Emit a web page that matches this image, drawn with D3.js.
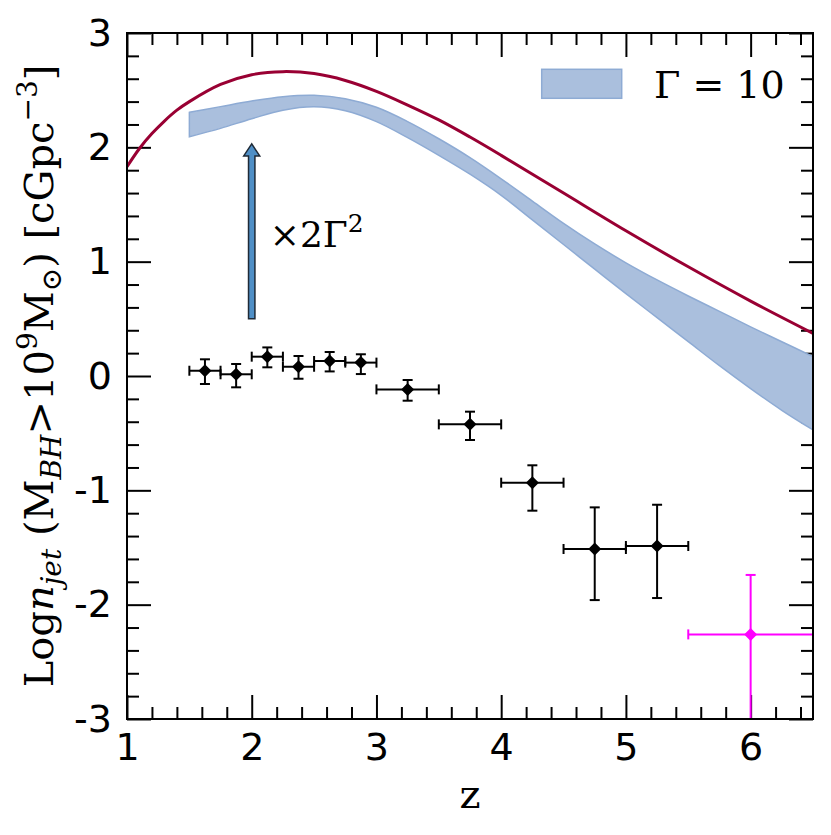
<!DOCTYPE html>
<html>
<head>
<meta charset="utf-8">
<script src="https://cdn.jsdelivr.net/npm/d3@7"></script>
<style>
  body { margin: 0; background: #fff; }
</style>
</head>
<body>
<div id="chart"></div>
<script>

// model curve (red line)
var redZ = [1.0, 1.1, 1.2, 1.3, 1.4, 1.5, 1.75, 2.0, 2.25, 2.5, 2.75, 3.0, 3.25, 3.5, 3.75, 4.0, 4.5, 5.0, 5.5, 6.0, 6.5];
var redV = [1.83, 1.99, 2.12, 2.23, 2.325, 2.40, 2.55, 2.635, 2.662, 2.645, 2.585, 2.49, 2.37, 2.24, 2.09, 1.93, 1.60, 1.27, 0.955, 0.655, 0.373];

// Gamma = 10 band
var bandZ  = [1.5, 1.75, 2.0, 2.25, 2.5, 2.75, 3.0, 3.25, 3.5, 3.75, 4.0, 4.25, 4.5, 4.75, 5.0, 5.25, 5.5, 5.75, 6.0, 6.25, 6.5];
var bandHi = [2.306, 2.356, 2.405, 2.443, 2.455, 2.425, 2.35, 2.225, 2.075, 1.91, 1.725, 1.53, 1.335, 1.155, 0.99, 0.84, 0.70, 0.565, 0.43, 0.30, 0.169];
var bandLo = [2.093, 2.166, 2.25, 2.325, 2.355, 2.32, 2.225, 2.085, 1.93, 1.765, 1.58, 1.365, 1.15, 0.935, 0.72, 0.51, 0.30, 0.09, -0.11, -0.30, -0.472];

// measured points (black)
var ptZ   = [1.625, 1.875, 2.125, 2.375, 2.625, 2.875, 3.25, 3.75, 4.25, 4.75, 5.25];
var ptZlo = [1.5, 1.75, 2.0, 2.25, 2.5, 2.75, 3.0, 3.5, 4.0, 4.5, 5.0];
var ptZhi = [1.75, 2.0, 2.25, 2.5, 2.75, 3.0, 3.5, 4.0, 4.5, 5.0, 5.5];
var ptV   = [0.046, 0.015, 0.169, 0.081, 0.131, 0.117, -0.117, -0.423, -0.933, -1.513, -1.487];
var ptUp  = [0.10, 0.09, 0.081, 0.094, 0.079, 0.073, 0.082, 0.111, 0.152, 0.364, 0.361];
var ptDn  = [0.116, 0.114, 0.093, 0.105, 0.091, 0.10, 0.099, 0.137, 0.245, 0.447, 0.455];

// high-z point (magenta)
var hiZ = [6.0], hiZlo = [5.5], hiZhi = [6.5];
var hiV = [-2.26], hiUp = [0.52], hiDn = [1.2];

// arrow x2Γ^2
var arrowZ = 2.0, arrowFrom = 0.5, arrowTo = 2.03;

var xTicks = [1, 2, 3, 4, 5, 6];
var yTicks = [-3, -2, -1, 0, 1, 2, 3];

var W = 831, H = 835;
var margin = {top: 33, right: 18, bottom: 116, left: 127},
    width = W - margin.left - margin.right,
    height = H - margin.top - margin.bottom;

var svg = d3.select("#chart")
  .append("svg")
    .attr("width", W)
    .attr("height", H)
  .append("g")
    .attr("transform", "translate(" + margin.left + "," + margin.top + ")");

var x = d3.scaleLinear().domain([1, 6.5]).range([0, width]);
var y = d3.scaleLinear().domain([-3, 3]).range([height, 0]);

// axes (drawn first so the data sits on top of the ticks)
var xMinor = d3.range(1.2, 6.5, 0.2).filter(function(v) { return Math.abs(v - Math.round(v)) > 0.01; });
var yMinor = d3.range(-2.8, 3, 0.2).filter(function(v) { return Math.abs(v - Math.round(v)) > 0.01; });

function styleAxis(g) {
  g.select(".domain").remove();
  g.selectAll("line").attr("stroke", "#000").attr("stroke-width", 2);
  g.selectAll("text").style("font-family", "DejaVu Sans").style("font-size", "38px").attr("fill", "#000");
}

svg.append("g").attr("transform", "translate(0," + height + ")")
  .call(d3.axisBottom(x).tickValues(xTicks).tickSize(-24).tickSizeOuter(0).tickPadding(14)
    .tickFormat(function(d) { return String(d); })).call(styleAxis);
svg.append("g").attr("transform", "translate(0," + height + ")")
  .call(d3.axisBottom(x).tickValues(xMinor).tickSize(-12).tickSizeOuter(0).tickFormat("")).call(styleAxis);
svg.append("g")
  .call(d3.axisTop(x).tickValues(xTicks).tickSize(-24).tickSizeOuter(0).tickFormat("")).call(styleAxis);
svg.append("g")
  .call(d3.axisTop(x).tickValues(xMinor).tickSize(-12).tickSizeOuter(0).tickFormat("")).call(styleAxis);

svg.append("g")
  .call(d3.axisLeft(y).tickValues(yTicks).tickSize(-24).tickSizeOuter(0).tickPadding(15)
    .tickFormat(function(d) { return String(d); })).call(styleAxis);
svg.append("g")
  .call(d3.axisLeft(y).tickValues(yMinor).tickSize(-12).tickSizeOuter(0).tickFormat("")).call(styleAxis);
svg.append("g").attr("transform", "translate(" + width + ",0)")
  .call(d3.axisRight(y).tickValues(yTicks).tickSize(-24).tickSizeOuter(0).tickFormat("")).call(styleAxis);
svg.append("g").attr("transform", "translate(" + width + ",0)")
  .call(d3.axisRight(y).tickValues(yMinor).tickSize(-12).tickSizeOuter(0).tickFormat("")).call(styleAxis);

svg.append("clipPath").attr("id", "clip")
  .append("rect").attr("width", width).attr("height", height);

var plot = svg.append("g").attr("clip-path", "url(#clip)");

// band
var band = bandZ.map(function(z, i) { return {z: z, hi: bandHi[i], lo: bandLo[i]}; });
plot.append("path")
  .datum(band)
  .attr("d", d3.area()
    .x(function(d) { return x(d.z); })
    .y0(function(d) { return y(d.lo); })
    .y1(function(d) { return y(d.hi); })
    .curve(d3.curveCatmullRom))
  .attr("fill", "#aabfdd")
  .attr("stroke", "#8eabd4")
  .attr("stroke-width", 1.5);

// red curve
var red = redZ.map(function(z, i) { return {z: z, v: redV[i]}; });
plot.append("path")
  .datum(red)
  .attr("d", d3.line()
    .x(function(d) { return x(d.z); })
    .y(function(d) { return y(d.v); })
    .curve(d3.curveCatmullRom))
  .attr("fill", "none")
  .attr("stroke", "#990033")
  .attr("stroke-width", 3);

// arrow
var ax = x(arrowZ), ay0 = y(arrowFrom), ay1 = y(arrowTo);
var sw = 3.2, hw = 8, hl = 12;
plot.append("path")
  .attr("d", "M" + (ax - sw) + "," + ay0 + "L" + (ax - sw) + "," + (ay1 + hl) +
             "L" + (ax - hw) + "," + (ay1 + hl) + "L" + ax + "," + ay1 +
             "L" + (ax + hw) + "," + (ay1 + hl) + "L" + (ax + sw) + "," + (ay1 + hl) +
             "L" + (ax + sw) + "," + ay0 + "Z")
  .attr("fill", "#4f8fc6")
  .attr("stroke", "#1f2a36")
  .attr("stroke-width", 1.5)
  .attr("stroke-linejoin", "miter");

var lab = svg.append("text")
  .attr("x", ax + 18)
  .attr("y", 214)
  .style("font-family", "DejaVu Serif")
  .style("font-size", "36px");
lab.append("tspan").text("×2Γ");
lab.append("tspan").attr("dy", -15).style("font-size", "25px").text("2");

// error bars
function errbars(zs, zlo, zhi, vs, up, dn, color) {
  var g = plot.append("g").attr("stroke", color).attr("stroke-width", 2).attr("fill", color);
  zs.forEach(function(z, i) {
    var cx = x(z), cy = y(vs[i]);
    var xl = x(zlo[i]), xr = x(zhi[i]), yt = y(vs[i] + up[i]), yb = y(vs[i] - dn[i]);
    g.append("line").attr("x1", xl).attr("x2", xr).attr("y1", cy).attr("y2", cy);
    g.append("line").attr("x1", cx).attr("x2", cx).attr("y1", yt).attr("y2", yb);
    g.append("line").attr("x1", xl).attr("x2", xl).attr("y1", cy - 5).attr("y2", cy + 5);
    g.append("line").attr("x1", xr).attr("x2", xr).attr("y1", cy - 5).attr("y2", cy + 5);
    g.append("line").attr("x1", cx - 5).attr("x2", cx + 5).attr("y1", yt).attr("y2", yt);
    g.append("line").attr("x1", cx - 5).attr("x2", cx + 5).attr("y1", yb).attr("y2", yb);
    var r = 6.5;
    g.append("path")
      .attr("d", "M" + cx + "," + (cy - r) + "L" + (cx + r) + "," + cy + "L" + cx + "," + (cy + r) + "L" + (cx - r) + "," + cy + "Z")
      .attr("stroke", "none");
  });
}
errbars(ptZ, ptZlo, ptZhi, ptV, ptUp, ptDn, "#000");
errbars(hiZ, hiZlo, hiZhi, hiV, hiUp, hiDn, "#ff00ff");

svg.append("rect")
  .attr("width", width).attr("height", height)
  .attr("fill", "none").attr("stroke", "#000").attr("stroke-width", 2);

// legend
svg.append("rect")
  .attr("x", 541.7 - margin.left).attr("y", 69.3 - margin.top)
  .attr("width", 80).attr("height", 29)
  .attr("fill", "#aabfdd").attr("stroke", "#8eabd4").attr("stroke-width", 1.5);
svg.append("text")
  .attr("x", 654 - margin.left).attr("y", 98 - margin.top)
  .style("font-family", "DejaVu Serif").style("font-size", "38px")
  .text("Γ = 10");

// axis labels
svg.append("text")
  .attr("x", width / 2).attr("y", 808 - margin.top)
  .attr("text-anchor", "middle")
  .style("font-family", "DejaVu Serif").style("font-size", "40px")
  .text("z");

var ylab = svg.append("text")
  .attr("transform", "translate(" + (53 - margin.left) + "," + (height / 2) + ") rotate(-90)")
  .attr("text-anchor", "middle")
  .style("font-family", "DejaVu Serif").style("font-size", "40px");
ylab.append("tspan").text("Log");
ylab.append("tspan").style("font-style", "italic").text("n");
ylab.append("tspan").attr("dy", 8).style("font-size", "28px").style("font-style", "italic").text("jet");
ylab.append("tspan").attr("dy", -8).text(" (M");
ylab.append("tspan").attr("dy", 8).style("font-size", "28px").style("font-style", "italic").text("BH");
ylab.append("tspan").attr("dy", -8).text(">10");
ylab.append("tspan").attr("dy", -16).style("font-size", "28px").text("9");
ylab.append("tspan").attr("dy", 16).text("M");
ylab.append("tspan").attr("dy", 8).style("font-size", "28px").text("⊙");
ylab.append("tspan").attr("dy", -8).text(") [cGpc");
ylab.append("tspan").attr("dy", -16).style("font-size", "28px").text("−3");
ylab.append("tspan").attr("dy", 16).text("]");

</script>
</body>
</html>
